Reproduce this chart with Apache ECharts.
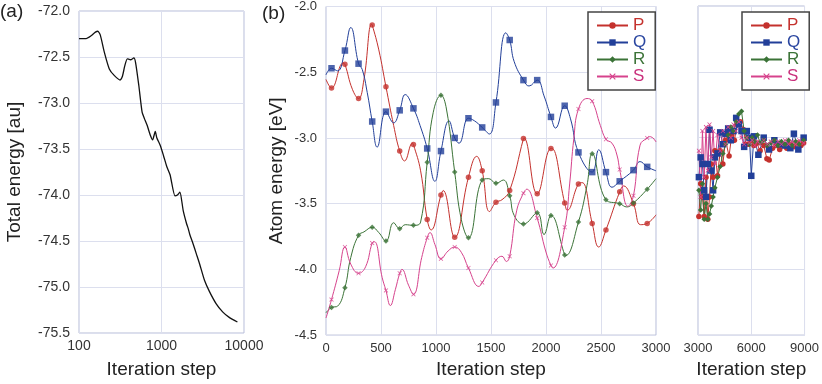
<!DOCTYPE html>
<html><head><meta charset="utf-8">
<script src="https://cdn.jsdelivr.net/npm/echarts@6/dist/echarts.min.js"></script>
<style>html,body{margin:0;padding:0;background:#fff}#c{width:822px;height:384px}</style>
</head><body><div id="c"></div><script>
// ---------- Panel (a): total energy vs iteration (log x) ----------
const A_steps  = [100,122,140,158,169,181,203,233,267,315,336,358,385,422,462,485,531,582,621,668,732,781,840,879,964,1056,1158,1270,1457,1560,1672,1833,2010,2100,2203,2413,2645,2899,3327,3817,4585,5506,6619,8321];
const A_energy = [-72.30,-72.30,-72.27,-72.23,-72.22,-72.26,-72.45,-72.63,-72.70,-72.75,-72.71,-72.60,-72.52,-72.53,-72.51,-72.56,-72.81,-73.10,-73.17,-73.24,-73.35,-73.40,-73.31,-73.38,-73.46,-73.57,-73.69,-73.78,-74.01,-74.00,-73.97,-74.17,-74.31,-74.36,-74.43,-74.53,-74.64,-74.75,-74.93,-75.05,-75.18,-75.27,-75.33,-75.38];
const A_xticks = ['100','1000','10000'];

// ---------- Panel (b): atom energies, steps 0-3000 ----------
const MARK_STEPS = [50,172,296,420,545,670,795,920,1045,1170,1295,1420,1545,1670,1795,1920,2045,2170,2295,2420,2545,2670,2795,2920];
const P_marks = [-2.62,-2.44,-2.70,-2.14,-2.61,-3.10,-3.05,-3.62,-3.435,-3.755,-3.30,-3.25,-3.49,-3.40,-3.005,-3.425,-3.08,-3.495,-3.35,-3.65,-3.70,-3.41,-3.50,-3.65];
const P_extra = [[0,-2.555],[156,-2.43],[240,-2.63],[345,-2.555],[414,-2.135],[480,-2.33],[615,-2.905],[714,-3.175],[786,-3.04],[860,-3.25],[955,-3.70],[1065,-3.40],[1370,-3.14],[1487,-3.56],[1600,-3.47],[1800,-3.0],[2052,-3.08],[2193,-3.55],[2328,-3.34],[2479,-3.83],[2705,-3.365],[2860,-3.66],[3000,-3.585]];
const Q_marks = [-2.47,-2.335,-2.435,-2.875,-2.80,-2.79,-2.775,-3.08,-3.10,-3.00,-2.85,-2.92,-2.73,-2.255,-2.56,-2.56,-2.84,-2.755,-3.11,-3.26,-3.26,-3.33,-3.245,-3.22];
const Q_extra = [[0,-2.52],[105,-2.49],[225,-2.16],[330,-2.48],[375,-2.655],[465,-3.07],[615,-2.885],[720,-2.67],[855,-2.905],[990,-3.33],[1118,-2.87],[1209,-3.04],[1350,-2.87],[1485,-2.97],[1635,-2.20],[1711,-2.42],[1846,-2.605],[1982,-2.68],[2087,-2.925],[2223,-2.855],[2479,-3.09],[2600,-3.375],[2855,-3.18],[3000,-3.25]];
const R_marks = [-4.29,-4.14,-3.74,-3.68,-3.785,-3.69,-3.665,-3.185,-2.675,-3.26,-3.76,-3.32,-3.345,-3.44,-3.655,-3.57,-3.59,-3.89,-3.64,-3.12,-3.47,-3.50,-3.495,-3.39];
const R_extra = [[0,-4.33],[105,-4.28],[225,-3.91],[345,-3.715],[480,-3.72],[615,-3.645],[720,-3.66],[860,-3.64],[975,-2.805],[1095,-2.78],[1230,-3.62],[1480,-3.31],[1612,-3.32],[1711,-3.59],[1982,-3.735],[2178,-3.895],[2373,-3.36],[2735,-3.525],[3000,-3.31]];
const S_marks = [-4.23,-3.83,-4.03,-3.80,-4.16,-4.03,-4.19,-3.76,-3.92,-3.83,-3.99,-4.10,-3.93,-3.90,-3.42,-3.61,-3.97,-3.68,-2.78,-2.72,-3.01,-3.24,-3.44,-3.0];
const S_extra = [[0,-4.37],[120,-4.01],[225,-3.96],[360,-3.98],[441,-3.79],[510,-4.06],[585,-4.275],[630,-4.155],[690,-4.0],[750,-4.12],[870,-3.91],[945,-3.72],[990,-3.81],[1110,-3.86],[1230,-3.87],[1390,-4.13],[1600,-3.90],[1640,-3.94],[1733,-3.555],[1825,-3.39],[1997,-3.86],[2063,-3.99],[2215,-3.35],[2253,-3.005],[2373,-2.70],[2494,-2.905],[2600,-3.04],[2645,-3.13],[2745,-3.52],[2855,-3.055],[2948,-2.99],[3000,-3.03]];

// ---------- Panel (c): atom energies, steps 3000-9000 ----------
const C_P = [[3050,-3.60],[3150,-3.35],[3250,-3.45],[3350,-3.60],[3450,-3.30],[3550,-3.62],[3650,-3.45],[3750,-3.20],[3850,-3.30],[3950,-3.10],[4100,-3.29],[4250,-3.10],[4400,-3.20],[4550,-3.02],[4750,-3.14],[4900,-2.98],[5050,-3.02],[5200,-2.90],[5380,-2.88],[5570,-2.94],[5700,-3.05],[5840,-3.05],[6000,-3.02],[6150,-3.06],[6300,-3.04],[6500,-3.10],[6700,-3.06],[6880,-3.16],[7010,-3.17],[7200,-3.08],[7400,-3.06],[7600,-3.09],[7800,-3.05],[8000,-3.08],[8200,-3.05],[8400,-3.07],[8600,-3.04],[8800,-3.06],[8950,-3.04]];
const C_Q = [[3050,-3.30],[3150,-3.15],[3250,-3.20],[3350,-3.40],[3450,-3.45],[3550,-3.20],[3650,-2.94],[3750,-3.25],[3850,-3.40],[3950,-3.15],[4100,-3.12],[4250,-2.96],[4400,-3.05],[4550,-2.97],[4700,-2.93],[4850,-3.02],[5000,-2.95],[5150,-2.85],[5300,-2.90],[5450,-2.95],[5600,-3.07],[5750,-2.95],[5900,-3.00],[6000,-3.29],[6150,-2.99],[6400,-3.13],[6700,-3.00],[7000,-3.09],[7300,-3.02],[7600,-3.05],[7900,-3.06],[8200,-3.08],[8400,-2.97],[8650,-3.09],[8950,-3.00]];
const C_R = [[3050,-3.40],[3150,-3.55],[3250,-3.35],[3350,-3.62],[3450,-3.50],[3550,-3.62],[3650,-3.58],[3750,-3.52],[3850,-3.45],[3950,-3.38],[4100,-3.30],[4250,-3.22],[4400,-3.12],[4550,-3.05],[4700,-2.98],[4850,-2.92],[5000,-2.95],[5150,-2.88],[5300,-2.82],[5450,-2.80],[5600,-2.95],[5750,-3.00],[5900,-3.05],[6050,-3.00],[6200,-3.03],[6350,-2.98],[6500,-3.04],[6700,-3.02],[6900,-3.06],[7100,-3.04],[7300,-3.02],[7500,-3.06],[7700,-3.03],[7900,-3.05],[8100,-3.02],[8300,-3.06],[8500,-3.03],[8700,-3.05],[8950,-3.02]];
const C_S = [[3050,-3.10],[3150,-3.45],[3250,-2.95],[3350,-3.30],[3450,-2.92],[3550,-3.25],[3650,-2.90],[3750,-3.15],[3850,-2.95],[3950,-3.20],[4100,-2.98],[4250,-3.10],[4400,-2.95],[4550,-3.05],[4700,-2.92],[4850,-3.00],[5000,-2.90],[5150,-2.95],[5300,-2.88],[5450,-3.00],[5600,-3.05],[5750,-3.00],[5900,-3.04],[6050,-3.02],[6200,-3.06],[6350,-3.03],[6500,-3.05],[6700,-3.02],[6900,-3.05],[7100,-3.03],[7300,-3.06],[7500,-3.03],[7700,-3.05],[7900,-3.02],[8100,-3.05],[8300,-3.03],[8500,-3.05],[8700,-3.02],[8950,-3.04]];

const NAMES = ['P','Q','R','S'];

// ---------- styling ----------
const FONT = "'Liberation Sans', Arial, Helvetica, sans-serif";
const COL = {P:'#c4312d', Q:'#223f99', R:'#3b7337', S:'#d6428c'};
const TXT = {P:'#c4312d', Q:'#2a46a0', R:'#3b7337', S:'#c9307c'};
const XSYM = 'path://M0,1.2L1.2,0L5,3.8L8.8,0L10,1.2L6.2,5L10,8.8L8.8,10L5,6.2L1.2,10L0,8.8L3.8,5Z';
const SYM = {P:['circle',5.5], Q:['rect',6.5], R:['diamond',5.5], S:[XSYM,4.5]};
const GRIDC = '#dcdfee', BORDER = '#b7bcd6';

function merged(marks, extra){
  return MARK_STEPS.map((s,i)=>[s,marks[i]]).concat(extra).sort((a,b)=>a[0]-b[0]);
}
const B_marks = {P:P_marks,Q:Q_marks,R:R_marks,S:S_marks};
const B_extra = {P:P_extra,Q:Q_extra,R:R_extra,S:S_extra};
const C_data = {P:C_P,Q:C_Q,R:C_R,S:C_S};

const axisLab = (fs)=>({color:'#333', fontSize:fs, fontFamily:FONT});
const nameStyle = {color:'#222', fontSize:19, fontFamily:FONT};
const plain = (v)=>String(v);

const series = [];
series.push({type:'line', xAxisIndex:0, yAxisIndex:0, data:A_steps.map((s,i)=>[s,A_energy[i]]),
  showSymbol:false, symbol:'none', smooth:0.2, lineStyle:{color:'#111', width:1.3}, itemStyle:{color:'#111'}, silent:true});
NAMES.forEach(n=>{
  series.push({name:n, type:'line', xAxisIndex:1, yAxisIndex:1, data:merged(B_marks[n],B_extra[n]),
    smooth:0.45, showSymbol:false, symbol:SYM[n][0], symbolSize:SYM[n][1],
    lineStyle:{color:COL[n], width:1}, itemStyle:{color:COL[n]}, z:2});
});
NAMES.forEach(n=>{
  series.push({name:n, type:'scatter', xAxisIndex:1, yAxisIndex:1, data:MARK_STEPS.map((s,i)=>[s,B_marks[n][i]]),
    symbol:SYM[n][0], symbolSize:SYM[n][1], itemStyle:{color:COL[n]}, z:3});
});
NAMES.forEach(n=>{
  series.push({name:n, type:'line', xAxisIndex:2, yAxisIndex:2, data:C_data[n],
    smooth:false, showSymbol:true, symbol:SYM[n][0], symbolSize:SYM[n][1],
    lineStyle:{color:COL[n], width:1}, itemStyle:{color:COL[n]}, z:2});
});

const legendBase = {orient:'vertical', top:12, itemWidth:31, itemHeight:8, itemGap:0,
  padding:[5,9,5,8], backgroundColor:'#fff', borderColor:'#444', borderWidth:1.5,
  textStyle:{fontSize:17, lineHeight:16, fontFamily:FONT},
  data:NAMES.map(n=>({name:n, textStyle:{color:TXT[n]}}))};

const option = {
  animation:false,
  backgroundColor:'#fff',
  grid:[
    {left:79, top:11, width:165, height:326, show:true, borderColor:BORDER, borderWidth:1, backgroundColor:'transparent'},
    {left:326, top:6, width:330, height:332, show:true, borderColor:BORDER, borderWidth:1, backgroundColor:'transparent'},
    {left:698, top:6, width:110, height:332, show:true, borderColor:BORDER, borderWidth:1, backgroundColor:'transparent'}
  ],
  xAxis:[
    {gridIndex:0, type:'log', logBase:10, min:100, max:10000, name:'Iteration step', nameLocation:'middle', nameGap:27, nameTextStyle:nameStyle,
      axisLine:{show:false}, axisTick:{show:false}, axisLabel:Object.assign(axisLab(14),{margin:6, formatter:(v)=>A_xticks[Math.round(Math.log10(v))-2]||''}),
      splitLine:{show:true, lineStyle:{color:GRIDC}}, minorTick:{show:false}},
    {gridIndex:1, type:'value', min:0, max:3000, interval:500, name:'Iteration step', nameLocation:'middle', nameGap:22, nameTextStyle:nameStyle,
      axisLine:{show:false}, axisTick:{show:false}, axisLabel:Object.assign(axisLab(13),{margin:7, formatter:plain}),
      splitLine:{show:true, lineStyle:{color:GRIDC}}},
    {gridIndex:2, type:'value', min:3000, max:9000, interval:3000, name:'Iteration step', nameLocation:'middle', nameGap:22, nameTextStyle:nameStyle,
      axisLine:{show:false}, axisTick:{show:false}, axisLabel:Object.assign(axisLab(13),{margin:7, formatter:plain}),
      splitLine:{show:true, lineStyle:{color:GRIDC}}}
  ],
  yAxis:[
    {gridIndex:0, type:'value', min:-75.5, max:-72.0, interval:0.5, name:'Total energy [au]', nameLocation:'middle', nameGap:55, nameTextStyle:nameStyle,
      axisLine:{show:false}, axisTick:{show:false}, axisLabel:Object.assign(axisLab(14),{margin:9, formatter:(v)=>v.toFixed(1)}),
      splitLine:{show:true, lineStyle:{color:GRIDC}}},
    {gridIndex:1, type:'value', min:-4.5, max:-2.0, interval:0.5, name:'Atom energy [eV]', nameLocation:'middle', nameGap:40, nameTextStyle:nameStyle,
      axisLine:{show:false}, axisTick:{show:false}, axisLabel:Object.assign(axisLab(13),{margin:9, formatter:(v)=>v.toFixed(1)}),
      splitLine:{show:true, lineStyle:{color:GRIDC}}},
    {gridIndex:2, type:'value', min:-4.5, max:-2.0, interval:0.5,
      axisLine:{show:false}, axisTick:{show:false}, axisLabel:{show:false},
      splitLine:{show:true, lineStyle:{color:GRIDC}}}
  ],
  legend:[
    Object.assign({}, legendBase, {left:588}),
    Object.assign({}, legendBase, {left:742})
  ],
  graphic:[
    {type:'text', left:0, top:2, style:{text:'(a)', fontSize:19, fontFamily:FONT, fill:'#222'}},
    {type:'text', left:262, top:4, style:{text:'(b)', fontSize:19, fontFamily:FONT, fill:'#222'}}
  ],
  series:series
};
const chart = echarts.init(document.getElementById('c'), null, {renderer:'canvas'});
chart.setOption(option);
</script></body></html>
